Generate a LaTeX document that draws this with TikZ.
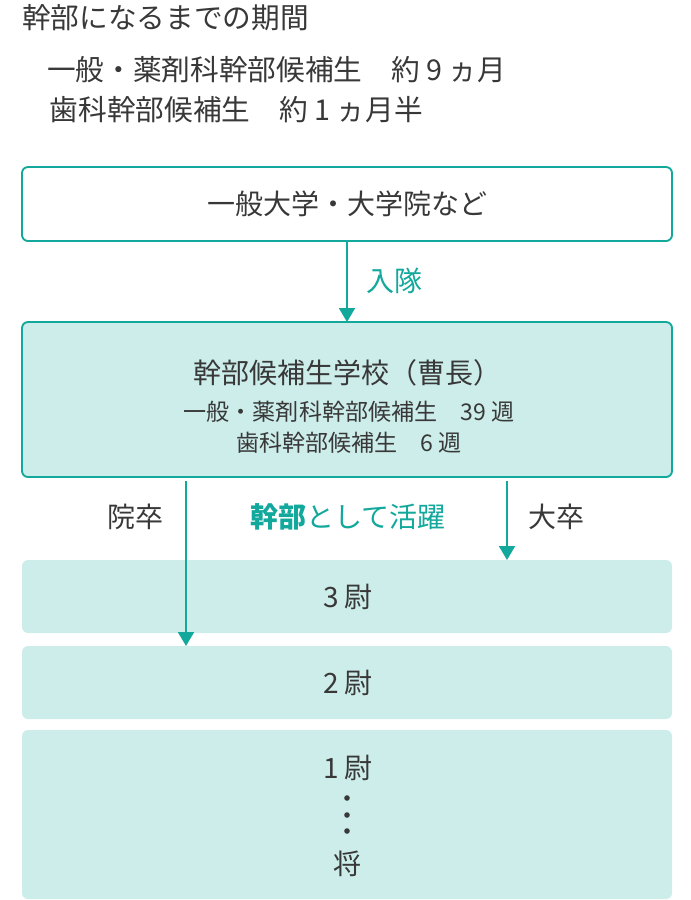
\documentclass[tikz,border=0pt]{standalone}
\usepackage{fontspec}
\setmainfont{Noto Sans CJK JP}
\usetikzlibrary{arrows.meta}
\definecolor{teal1}{HTML}{13A89C}
\definecolor{tealfill}{HTML}{CCEDEA}
\definecolor{ink}{HTML}{383838}
\begin{document}
\begin{tikzpicture}[x=0.75pt,y=-0.75pt,
  every node/.style={text=ink, inner sep=0pt, outer sep=0pt},
  big/.style={font=\fontsize{21}{25}\selectfont},
  head/.style={font=\fontsize{21.5}{25}\selectfont},
  small/.style={font=\fontsize{17.3}{20}\selectfont},
  outline/.style={draw=teal1, line width=1.4pt, rounded corners=4.5pt, minimum width=487.5pt},
  rank/.style={fill=tealfill, rounded corners=4.5pt, minimum width=487.5pt},
  arr/.style={draw=teal1, line width=1.4pt, -{Triangle[width=12pt,length=10.5pt]}},
]
\useasboundingbox (0,0) rectangle (690,900);

% header
\node[head, anchor=west] (title) at (22,18) {幹部になるまでの期間};
\node[head, anchor=west] (l1) at (47,70) {一般・薬剤科幹部候補生　約 9 ヵ月};
\node[head, anchor=west] (l2) at (50,110) {歯科幹部候補生　約 1 ヵ月半};

% boxes
\node[outline, fill=white, minimum height=55.5pt, big] (uni) at (347,204) {一般大学・大学院など};
\node[outline, fill=tealfill, minimum height=116.25pt] (school) at (347,399.5) {};
\node[big] (st) at (347,373) {幹部候補生学校（曹長）};
\node[small] (s1) at (349,412) {一般・薬剤科幹部候補生　39 週};
\node[small] (s2) at (349,443) {歯科幹部候補生　6 週};

\node[rank, minimum height=54.75pt] (r3) at (347,596.5) {};
\node[rank, minimum height=54.75pt] (r2) at (347,682.5) {};
\node[rank, minimum height=126.75pt] (r1) at (347,814.5) {};

\node[big] (t3) at (348,597) {3 尉};
\node[big] (t2) at (348,683) {2 尉};
\node[big] (t1) at (348,768) {1 尉};
\fill[ink] (347,798) circle (2.8) (347,815) circle (2.8) (347,831) circle (2.8);
\node[big] (sho) at (347,864) {将};

% connectors
\draw[arr] (uni.south) -- (school.north);
\node[big, text=teal1] (nyutai) at (394,281) {入隊};

\coordinate (ls) at (186,481);
\coordinate (rs) at (507,481);
\draw[arr] (ls) -- (ls |- r2.north);
\draw[arr] (rs) -- (rs |- r3.north);

\node[big] (insotsu) at (135,517) {院卒};
\node[big, text=teal1] (katsu) at (348,517) {\bfseries 幹部\mdseries として活躍};
\node[big] (daisotsu) at (556,517) {大卒};
\end{tikzpicture}
\end{document}
